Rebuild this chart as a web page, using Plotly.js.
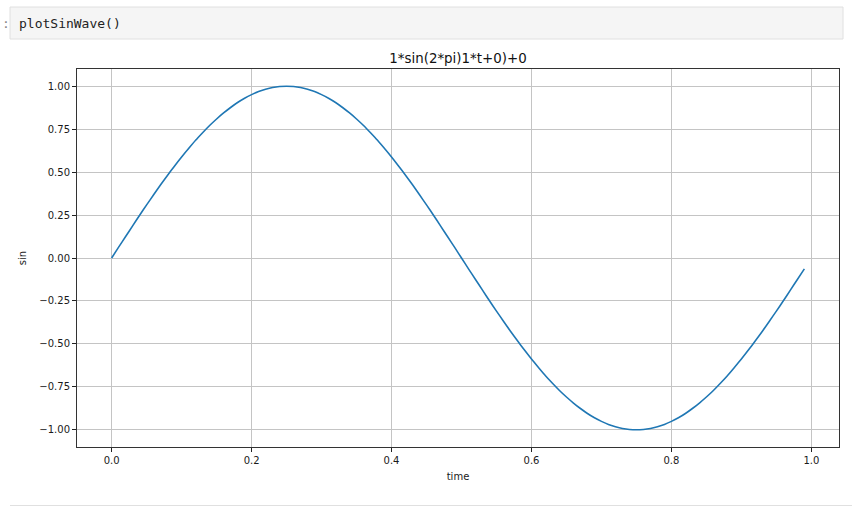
<!DOCTYPE html>
<html>
<head>
<meta charset="utf-8">
<script src="https://cdn.plot.ly/plotly-3.0.1.min.js"></script>
<style>html,body{margin:0;padding:0;background:#fff;}#chart{width:852px;height:507px;}</style>
</head>
<body>
<div id="chart"></div>
<script>
const chartTitle = "1*sin(2*pi)1*t+0)+0";
const codeCell = "plotSinWave()";
const xLabel = "time";
const yLabel = "sin";

const time = [0.00,0.01,0.02,0.03,0.04,0.05,0.06,0.07,0.08,0.09,
  0.10,0.11,0.12,0.13,0.14,0.15,0.16,0.17,0.18,0.19,
  0.20,0.21,0.22,0.23,0.24,0.25,0.26,0.27,0.28,0.29,
  0.30,0.31,0.32,0.33,0.34,0.35,0.36,0.37,0.38,0.39,
  0.40,0.41,0.42,0.43,0.44,0.45,0.46,0.47,0.48,0.49,
  0.50,0.51,0.52,0.53,0.54,0.55,0.56,0.57,0.58,0.59,
  0.60,0.61,0.62,0.63,0.64,0.65,0.66,0.67,0.68,0.69,
  0.70,0.71,0.72,0.73,0.74,0.75,0.76,0.77,0.78,0.79,
  0.80,0.81,0.82,0.83,0.84,0.85,0.86,0.87,0.88,0.89,
  0.90,0.91,0.92,0.93,0.94,0.95,0.96,0.97,0.98,0.99];

const sinValues = [0.000,0.063,0.125,0.187,0.249,0.309,0.368,0.426,0.482,0.536,
  0.588,0.637,0.685,0.729,0.771,0.809,0.844,0.876,0.905,0.930,
  0.951,0.969,0.982,0.992,0.998,1.000,0.998,0.992,0.982,0.969,
  0.951,0.930,0.905,0.876,0.844,0.809,0.771,0.729,0.685,0.637,
  0.588,0.536,0.482,0.426,0.368,0.309,0.249,0.187,0.125,0.063,
  0.000,-0.063,-0.125,-0.187,-0.249,-0.309,-0.368,-0.426,-0.482,-0.536,
  -0.588,-0.637,-0.685,-0.729,-0.771,-0.809,-0.844,-0.876,-0.905,-0.930,
  -0.951,-0.969,-0.982,-0.992,-0.998,-1.000,-0.998,-0.992,-0.982,-0.969,
  -0.951,-0.930,-0.905,-0.876,-0.844,-0.809,-0.771,-0.729,-0.685,-0.637,
  -0.588,-0.536,-0.482,-0.426,-0.368,-0.309,-0.249,-0.187,-0.125,-0.063];

const xTicks = [0.0,0.2,0.4,0.6,0.8,1.0];
const yTicks = [-1.00,-0.75,-0.50,-0.25,0.00,0.25,0.50,0.75,1.00];

// plot area in pixels: x 77..839, y 69..447
const W = 852, H = 507, L = 77, R = 13, T = 69, B = 60;
const pw = W - L - R, ph = H - T - B;
const px = v => (v - L) / pw;
const py = v => 1 - (v - T) / ph;

const font = "DejaVu Sans, sans-serif";

const trace = {
  x: time, y: sinValues, type: "scatter", mode: "lines",
  line: {color: "#1f77b4", width: 1.6, shape: "spline", smoothing: 0.6}, hoverinfo: "skip"
};

const axisCommon = {
  showline: true, mirror: true, linecolor: "#333", linewidth: 1,
  ticks: "outside", ticklen: 4, tickwidth: 1, tickcolor: "#222",
  showgrid: true, gridcolor: "#c4c4c4", gridwidth: 1,
  zeroline: false, tickfont: {family: font, size: 10, color: "#1a1a1a"}
};

const layout = {
  width: W, height: H,
  margin: {l: L, r: R, t: T, b: B, pad: 0},
  paper_bgcolor: "#fff", plot_bgcolor: "#fff",
  showlegend: false,
  title: {text: chartTitle, font: {family: font, size: 13.4, color: "#111"},
          x: 0.5, xref: "paper", xanchor: "center", y: 1 - 58 / H, yref: "container", yanchor: "middle"},
  xaxis: Object.assign({}, axisCommon, {
    range: [-0.0495, 1.0395], tickvals: xTicks, tickformat: ".1f",
    title: {text: xLabel, font: {family: font, size: 10, color: "#1a1a1a"}, standoff: 7}
  }),
  yaxis: Object.assign({}, axisCommon, {
    range: [-1.1, 1.1], tickvals: yTicks, tickformat: ".2f",
    title: {text: yLabel, font: {family: font, size: 10, color: "#1a1a1a"}, standoff: 10}
  }),
  shapes: [
    {type: "rect", xref: "paper", yref: "paper",
     x0: px(10), x1: px(843), y0: py(39), y1: py(7),
     fillcolor: "#f5f5f5", line: {color: "#e0e0e0", width: 1}, layer: "below"},
    {type: "line", xref: "paper", yref: "paper",
     x0: px(10), x1: px(852), y0: py(505.5), y1: py(505.5),
     line: {color: "#e0e0e0", width: 1}}
  ],
  annotations: [
    {text: codeCell, xref: "paper", yref: "paper", x: px(17), y: py(23),
     xanchor: "left", yanchor: "middle", showarrow: false,
     font: {family: "DejaVu Sans Mono, monospace", size: 13, color: "#222"}},
    {text: ":", xref: "paper", yref: "paper", x: px(0), y: py(23),
     xanchor: "left", yanchor: "middle", showarrow: false,
     font: {family: "DejaVu Sans Mono, monospace", size: 13, color: "#888"}}
  ]
};

Plotly.newPlot("chart", [trace], layout, {displayModeBar: false, staticPlot: true});
</script>
</body>
</html>
